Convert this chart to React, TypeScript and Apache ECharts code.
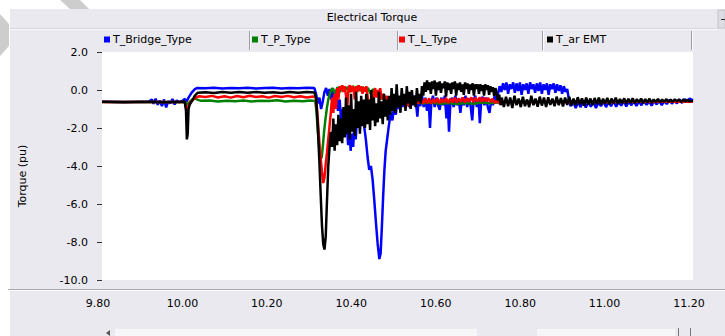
import React, { useEffect, useRef } from 'react';
import * as echarts from 'echarts';

const chartTitle = 'Electrical Torque';
const yAxisName = 'Torque (pu)';
const seriesNames = ['T_Bridge_Type', 'T_P_Type', 'T_L_Type', 'T_ar EMT'];
const seriesColors = ['#0000ff', '#008000', '#ff0000', '#000000'];
const xTicks = [9.8, 10.0, 10.2, 10.4, 10.6, 10.8, 11.0, 11.2];
const yTicks = [2, 0, -2, -4, -6, -8, -10];

const blueData = [
  [9.800,-0.62],[9.860,-0.63],[9.910,-0.62],[9.918,-0.5],[9.922,-0.72],[9.927,-0.46],[9.932,-0.78],[9.937,-0.55],[9.942,-0.85],[9.947,-0.5],[9.952,-0.92],[9.957,-0.58],[9.962,-0.7],[9.967,-0.47],[9.972,-0.76],[9.977,-0.55],[9.983,-0.64],[9.990,-0.58],[9.996,-0.47],[10.000,-0.62],[10.005,-0.4],[10.012,-0.15],[10.020,0.05],[10.026,0.11],
  [10.045,0.09],[10.065,0.12],[10.085,0.08],[10.105,0.11],[10.125,0.09],[10.145,0.12],[10.165,0.08],[10.185,0.1],[10.205,0.12],[10.225,0.08],[10.245,0.11],[10.265,0.09],[10.285,0.12],[10.303,0.1],
  [10.307,-0.2],[10.311,-0.7],[10.315,-0.4],[10.319,-1.0],[10.323,-0.6],[10.327,-0.1],[10.331,0.1],[10.335,-0.3],[10.339,0.05],[10.343,-0.5],[10.347,0.1],[10.351,-0.7],[10.355,-0.2],[10.359,-1.1],[10.363,-0.5],[10.367,-1.8],[10.371,-1.0],[10.375,-2.4],[10.379,-1.5],[10.383,-2.9],[10.386,-2.0],[10.389,-3.2],[10.392,-2.3],[10.395,-3.0],[10.398,-1.7],[10.401,-2.6],[10.405,-1.1],[10.409,-1.9],[10.413,-0.8],[10.417,-1.4],
  [10.421,-1.9],[10.425,-2.6],[10.429,-3.5],[10.433,-4.2],[10.437,-4.0],[10.441,-4.7],[10.445,-5.8],[10.449,-7.0],[10.453,-8.1],[10.457,-8.9],[10.460,-8.6],[10.463,-7.2],[10.466,-5.6],[10.469,-4.2],[10.472,-3.2],[10.476,-2.5],[10.480,-1.8],[10.484,-1.2],[10.488,-1.6],[10.492,-0.8],[10.496,-1.3],[10.500,-0.5],[10.504,-1.0],
  [10.508,-0.4],[10.512,-0.9],[10.516,-0.3],[10.520,-0.8],[10.524,-0.25],[10.528,-0.9],[10.532,-0.4],[10.536,-0.8],[10.540,-0.3],[10.544,-0.7],[10.547,-1.4],[10.550,-0.5],[10.554,-0.85],[10.558,-0.3],[10.562,-0.9],[10.566,-0.4],[10.570,-1.1],[10.574,-0.6],[10.577,-2.0],[10.580,-0.7],[10.584,-0.3],[10.588,-0.9],[10.592,-0.4],[10.596,-0.8],[10.600,-1.05],[10.604,-0.4],[10.608,-0.8],[10.612,-0.3],[10.616,-1.5],[10.619,-0.6],[10.622,-2.2],[10.625,-0.8],[10.629,-0.4],[10.633,-0.9],[10.637,-0.3],[10.641,-0.8],[10.645,-0.5],[10.649,-1.2],[10.653,-0.4],[10.657,-0.8],[10.661,-0.3],[10.665,-0.9],[10.669,-0.45],[10.673,-0.8],[10.677,-1.6],[10.680,-0.6],[10.684,-0.3],[10.688,-0.9],[10.692,-0.5],[10.695,-1.75],[10.698,-0.7],[10.702,-0.35],[10.706,-0.8],[10.710,-0.4],[10.714,-0.9],[10.718,-1.2],[10.722,-0.5],[10.726,-0.8],[10.730,-0.3],[10.734,-0.7],
  [10.738,-0.2],[10.742,0.2],
  [10.746,-0.1],[10.750,0.35],[10.754,0.0],[10.758,0.4],[10.762,-0.2],[10.766,0.3],[10.770,0.05],[10.774,0.4],[10.778,-0.15],[10.782,0.35],[10.786,-0.05],[10.790,0.4],[10.794,-0.25],[10.798,0.3],[10.802,0.0],[10.806,0.35],[10.810,-0.2],[10.814,0.4],[10.818,0.05],[10.822,0.3],[10.826,-0.15],[10.830,0.35],[10.834,-0.05],[10.838,0.4],[10.842,-0.2],[10.846,0.3],[10.850,0.0],[10.854,0.35],[10.858,-0.25],[10.862,0.3],[10.866,0.05],[10.870,0.35],[10.874,-0.15],[10.878,0.3],[10.882,-0.05],[10.886,0.25],[10.890,-0.2],[10.894,0.2],[10.898,-0.1],[10.902,0.05],
  [10.906,-0.5],[10.910,-0.85],
  [10.916,-0.6],[10.922,-0.95],[10.928,-0.65],[10.934,-0.9],[10.940,-0.55],[10.946,-0.92],[10.952,-0.62],[10.958,-0.88],[10.964,-0.58],[10.970,-0.95],[10.976,-0.66],[10.982,-0.85],[10.988,-0.6],[10.994,-0.9],[11.000,-0.62],[11.006,-0.85],[11.012,-0.55],[11.018,-0.88],[11.024,-0.62],[11.030,-0.82],[11.036,-0.58],[11.042,-0.86],[11.048,-0.6],[11.054,-0.8],[11.060,-0.56],[11.066,-0.84],[11.072,-0.6],[11.078,-0.8],[11.084,-0.55],[11.090,-0.78],[11.096,-0.6],[11.102,-0.82],[11.108,-0.56],[11.114,-0.76],[11.120,-0.55],[11.126,-0.8],[11.132,-0.58],[11.138,-0.74],[11.144,-0.52],[11.150,-0.72],[11.156,-0.55],[11.162,-0.7],[11.168,-0.5],[11.174,-0.68],[11.180,-0.48],[11.186,-0.65],[11.192,-0.45],[11.200,-0.55],
];

const greenData = [
  [9.800,-0.63],[9.998,-0.63],[10.003,-0.78],[10.008,-0.62],[10.014,-0.5],[10.020,-0.44],[10.027,-0.52],[10.035,-0.57],[10.055,-0.55],[10.075,-0.6],[10.095,-0.56],[10.115,-0.59],[10.135,-0.55],[10.155,-0.6],[10.175,-0.56],[10.195,-0.58],[10.215,-0.54],[10.235,-0.6],[10.255,-0.56],[10.275,-0.59],[10.295,-0.55],[10.305,-0.58],
  [10.308,-1.1],[10.311,-2.1],[10.314,-2.9],[10.317,-3.4],[10.320,-3.6],[10.323,-3.0],[10.326,-2.2],[10.329,-1.6],[10.333,-0.9],[10.337,-0.4],[10.341,-0.1],
  [10.346,0.1],[10.352,-0.2],[10.358,0.15],[10.364,-0.1],[10.370,0.2],[10.376,0.0],[10.382,0.15],[10.388,-0.1],[10.394,0.2],[10.400,0.05],[10.406,0.2],[10.412,-0.05],[10.418,0.15],[10.424,0.0],[10.430,0.1],[10.436,-0.2],[10.442,0.05],[10.448,-0.3],[10.455,-0.1],[10.462,-0.45],[10.470,-0.35],[10.478,-0.6],
  [10.490,-0.7],[10.505,-0.6],[10.520,-0.72],[10.540,-0.65],[10.560,-0.7],[10.580,-0.66],[10.600,-0.72],[10.620,-0.68],[10.640,-0.74],[10.660,-0.68],[10.680,-0.72],[10.700,-0.66],[10.720,-0.7],[10.740,-0.64],[10.760,-0.62],[10.800,-0.6],[10.850,-0.64],[10.900,-0.6],[10.950,-0.63],[11.000,-0.6],[11.050,-0.62],[11.100,-0.6],[11.150,-0.62],[11.200,-0.6],
];

const redData = [
  [9.800,-0.63],[9.996,-0.63],[9.999,-0.9],[10.002,-1.2],[10.005,-0.85],[10.010,-0.62],[10.016,-0.5],[10.022,-0.4],[10.030,-0.33],
  [10.045,-0.37],[10.060,-0.31],[10.075,-0.39],[10.090,-0.33],[10.105,-0.4],[10.120,-0.32],[10.135,-0.38],[10.150,-0.3],[10.165,-0.37],[10.180,-0.33],[10.195,-0.4],[10.210,-0.32],[10.225,-0.37],[10.240,-0.31],[10.255,-0.38],[10.270,-0.33],[10.285,-0.39],[10.300,-0.34],[10.306,-0.36],
  [10.309,-0.9],[10.312,-1.8],[10.315,-2.8],[10.318,-3.6],[10.321,-4.3],[10.324,-4.9],[10.327,-4.6],[10.330,-3.9],[10.333,-3.3],[10.336,-2.6],[10.339,-1.9],[10.342,-1.2],
  [10.345,-0.4],[10.348,-1.2],[10.351,-0.2],[10.354,-1.0],[10.357,0.1],[10.360,-0.5],[10.363,0.2],[10.366,0.0],[10.369,0.25],[10.372,-0.1],[10.375,0.2],[10.378,-0.3],[10.381,-0.9],[10.384,0.1],[10.387,0.25],[10.390,-0.1],[10.393,0.2],[10.396,0.05],[10.399,-0.5],[10.402,0.2],[10.405,-0.1],[10.408,0.25],[10.411,0.0],[10.414,0.2],[10.417,-0.2],[10.420,0.15],[10.423,-0.1],[10.426,0.2],[10.429,-0.3],[10.432,-1.0],[10.435,-1.4],[10.438,-0.6],[10.441,-1.3],[10.444,-0.2],[10.447,0.1],[10.450,-0.4],[10.453,0.0],[10.456,-0.3],[10.459,0.1],[10.462,-0.5],[10.466,-0.2],[10.470,-0.7],[10.474,-0.3],[10.478,-0.8],
  [10.482,-0.45],[10.486,-0.9],[10.490,-0.4],[10.494,-0.8],[10.498,-0.5],[10.502,-0.9],[10.506,-0.45],[10.510,-0.8],[10.514,-0.5],[10.518,-0.75],[10.522,-0.55],[10.526,-0.85],[10.530,-0.5],[10.534,-0.7],[10.538,-0.55],[10.542,-0.75],[10.546,-0.6],[10.550,-0.7],[10.555,-0.5],[10.560,-0.72],
  [10.565,-0.45],[10.570,-0.7],[10.575,-0.44],[10.580,-0.72],[10.585,-0.47],[10.590,-0.68],[10.595,-0.43],[10.600,-0.7],[10.605,-0.46],[10.610,-0.66],[10.615,-0.42],[10.620,-0.69],[10.625,-0.45],[10.630,-0.65],[10.635,-0.41],[10.640,-0.67],[10.645,-0.44],[10.650,-0.63],[10.655,-0.4],[10.660,-0.66],[10.665,-0.42],[10.670,-0.62],[10.675,-0.39],[10.680,-0.64],[10.685,-0.41],[10.690,-0.6],[10.695,-0.38],[10.700,-0.63],[10.705,-0.4],[10.710,-0.6],[10.715,-0.42],[10.720,-0.64],[10.725,-0.46],[10.730,-0.68],[10.735,-0.55],[10.740,-0.7],
  [10.760,-0.62],[10.800,-0.66],[10.850,-0.6],[10.900,-0.65],[10.950,-0.6],[11.000,-0.64],[11.050,-0.6],[11.100,-0.63],[11.150,-0.6],[11.200,-0.62],
];

const blackData = [
  [9.800,-0.62],[9.850,-0.64],[9.900,-0.62],[9.950,-0.64],[9.996,-0.62],[9.999,-1.1],[10.001,-2.6],[10.003,-2.3],[10.005,-1.0],[10.008,-0.75],[10.014,-0.55],[10.020,-0.3],[10.027,-0.14],
  [10.045,-0.12],[10.065,-0.16],[10.085,-0.1],[10.105,-0.14],[10.125,-0.11],[10.145,-0.15],[10.165,-0.1],[10.185,-0.14],[10.205,-0.12],[10.225,-0.16],[10.245,-0.11],[10.265,-0.14],[10.285,-0.1],[10.303,-0.13],
  [10.307,-0.4],[10.311,-1.8],[10.315,-3.8],[10.318,-5.5],[10.321,-7.1],[10.324,-8.1],[10.327,-8.4],[10.330,-7.7],[10.333,-5.8],[10.336,-4.0],[10.339,-3.0],[10.342,-2.2],
  [10.345,-3.0],[10.348,-1.5],[10.351,-3.2],[10.354,-1.8],[10.357,-2.9],[10.360,-1.3],[10.363,-2.7],[10.366,-1.5],[10.369,-2.8],[10.372,-0.9],[10.375,-2.5],
  [10.378,-0.4],[10.381,-2.3],[10.384,-0.8],[10.387,-2.6],[10.390,-0.2],[10.393,-2.2],[10.396,-1.0],[10.399,-2.4],[10.402,-0.1],[10.405,-2.0],[10.408,-0.6],[10.411,-2.3],[10.414,-0.3],[10.417,-1.9],[10.420,-0.5],
  [10.423,-2.0],[10.426,-0.2],[10.429,-1.8],[10.432,-0.5],[10.435,-2.1],[10.438,0.0],[10.441,-1.6],[10.444,-0.4],[10.447,-1.9],[10.450,-0.7],[10.453,-1.7],[10.456,-0.1],[10.459,-1.5],[10.462,-0.6],[10.465,-1.8],[10.468,-0.2],[10.471,-1.4],[10.474,-0.5],[10.477,-1.6],[10.480,-0.3],
  [10.483,-1.3],[10.486,0.1],[10.489,-1.1],[10.492,-0.2],[10.495,-1.2],[10.498,0.3],[10.501,-0.9],[10.504,-0.3],[10.507,-1.2],[10.510,0.1],[10.513,-0.8],[10.516,-0.2],[10.519,-1.1],[10.522,0.2],[10.525,-0.7],[10.528,-0.1],[10.531,-1.0],[10.534,0.0],[10.537,-0.8],[10.540,-0.3],[10.543,-0.9],[10.546,0.1],[10.549,-0.6],[10.552,-0.2],[10.555,-0.7],[10.558,0.2],[10.561,-0.3],
  [10.564,0.4],[10.567,-0.1],[10.570,0.5],[10.573,0.0],[10.576,0.4],[10.579,-0.2],[10.582,0.45],[10.585,0.05],[10.588,0.5],[10.591,-0.3],[10.594,0.4],[10.597,0.0],[10.600,0.45],[10.603,-0.15],[10.606,0.35],[10.609,0.1],[10.612,0.45],[10.615,-0.35],[10.618,0.4],[10.621,0.0],[10.624,0.35],[10.627,-0.2],[10.630,0.4],[10.633,0.05],[10.636,0.45],[10.639,-0.3],[10.642,0.35],[10.645,0.0],[10.648,0.4],[10.651,-0.1],[10.654,0.3],[10.657,-0.25],[10.660,0.4],[10.663,0.05],[10.666,0.35],[10.669,-0.2],[10.672,0.3],[10.675,0.0],[10.678,0.35],[10.681,-0.3],[10.684,0.3],[10.687,0.05],[10.690,0.3],[10.693,-0.2],[10.696,0.3],[10.699,-0.05],[10.702,0.25],[10.705,-0.3],[10.708,0.3],[10.711,0.0],[10.714,0.25],[10.717,-0.25],[10.720,0.2],[10.723,-0.1],[10.726,0.15],[10.729,-0.3],[10.732,0.1],[10.735,-0.2],
  [10.738,-0.55],[10.741,-0.25],[10.744,-0.8],[10.747,-0.4],
  [10.752,-0.9],[10.757,-0.35],[10.762,-0.85],[10.767,-0.4],[10.772,-0.95],[10.777,-0.3],[10.782,-0.8],[10.787,-0.45],[10.792,-0.9],[10.797,-0.35],[10.802,-0.85],[10.807,-0.5],[10.812,-0.9],[10.817,-0.3],[10.822,-0.8],[10.827,-0.45],[10.832,-0.88],[10.837,-0.35],[10.842,-0.82],[10.847,-0.4],[10.852,-0.9],[10.857,-0.38],[10.862,-0.78],[10.867,-0.45],[10.872,-0.85],[10.877,-0.35],[10.882,-0.8],[10.887,-0.42],[10.892,-0.86],[10.897,-0.4],[10.902,-0.78],[10.907,-0.36],[10.912,-0.82],[10.917,-0.45],[10.922,-0.8],[10.927,-0.38],[10.932,-0.76],[10.937,-0.44],[10.942,-0.82],[10.947,-0.4],[10.952,-0.75],[10.957,-0.45],[10.962,-0.8],[10.967,-0.42],[10.972,-0.74],[10.977,-0.4],[10.982,-0.78],[10.987,-0.46],[10.992,-0.72],[10.997,-0.42],[11.002,-0.76],[11.007,-0.45],[11.012,-0.7],[11.017,-0.4],[11.022,-0.74],[11.027,-0.47],[11.032,-0.7],[11.037,-0.44],[11.042,-0.72],[11.047,-0.46],[11.052,-0.68],[11.057,-0.43],[11.062,-0.7],[11.067,-0.48],[11.072,-0.66],[11.077,-0.45],[11.082,-0.7],[11.087,-0.48],[11.092,-0.65],[11.097,-0.46],[11.102,-0.68],[11.107,-0.5],[11.112,-0.64],[11.117,-0.47],[11.122,-0.66],[11.127,-0.5],[11.132,-0.62],[11.137,-0.48],[11.142,-0.64],[11.147,-0.5],[11.152,-0.62],[11.157,-0.49],[11.162,-0.6],[11.167,-0.5],[11.172,-0.62],[11.177,-0.5],[11.182,-0.6],[11.187,-0.52],[11.192,-0.6],[11.200,-0.55],
];

const allData = [blueData, greenData, redData, blackData];
const legendLefts = [104, 252, 399, 547];
const legendSeparators = [249, 397, 542, 691];

const FONT = 'DejaVu Sans';
const PANEL = '#eae9ef';

export default function App() {
  const ref = useRef<HTMLDivElement>(null);
  useEffect(() => {
    const chart = echarts.init(ref.current!, null, { renderer: 'svg' });
    const graphics: any[] = [
      { type: 'rect', shape: { x: 0, y: 0, width: 725, height: 9 }, style: { fill: '#fff' }, silent: true },
      { type: 'rect', shape: { x: 0, y: 0, width: 10, height: 336 }, style: { fill: '#fff' }, silent: true },
      { type: 'polygon', shape: { points: [[60, 0], [80, 0], [89, 9], [70, 9]] }, style: { fill: '#cdcdcd' }, silent: true },
      { type: 'polygon', shape: { points: [[0, 14], [9, 24], [9, 46], [0, 56]] }, style: { fill: '#cdcdcd' }, silent: true },
      { type: 'line', shape: { x1: 10, y1: 29.5, x2: 718, y2: 29.5 }, style: { stroke: '#fbfbfd', lineWidth: 1 }, silent: true },
      { type: 'line', shape: { x1: 10, y1: 28.5, x2: 718, y2: 28.5 }, style: { stroke: '#d4d3da', lineWidth: 1 }, silent: true },
      { type: 'rect', shape: { x: 718, y: 10, width: 7, height: 18 }, style: { fill: '#dddce3', stroke: '#c4c3ca', lineWidth: 1 }, silent: true },
      { type: 'line', shape: { x1: 721, y1: 19.5, x2: 725, y2: 19.5 }, style: { stroke: '#333', lineWidth: 1 }, silent: true },
      { type: 'line', shape: { x1: 8, y1: 289.5, x2: 725, y2: 289.5 }, style: { stroke: '#a9a9ae', lineWidth: 1 }, silent: true },
      { type: 'line', shape: { x1: 8, y1: 290.5, x2: 725, y2: 290.5 }, style: { stroke: '#fdfdfd', lineWidth: 1 }, silent: true },
      { type: 'rect', shape: { x: 115, y: 329, width: 362, height: 7 }, style: { fill: '#f6f6f8' }, silent: true },
      { type: 'rect', shape: { x: 537, y: 329, width: 138, height: 7 }, style: { fill: '#f6f6f8' }, silent: true },
      { type: 'polygon', shape: { points: [[106, 333], [110, 330], [110, 336]] }, style: { fill: '#555' }, silent: true },
      { type: 'line', shape: { x1: 678.5, y1: 328, x2: 678.5, y2: 336 }, style: { stroke: '#777', lineWidth: 1 }, silent: true },
      { type: 'line', shape: { x1: 690.5, y1: 328, x2: 690.5, y2: 336 }, style: { stroke: '#777', lineWidth: 1 }, silent: true },
      {
        type: 'text', x: 22, y: 176, rotation: Math.PI / 2, silent: true,
        style: { text: yAxisName, fontSize: 11, fontFamily: FONT, fill: '#000', align: 'center', verticalAlign: 'middle' },
      },
    ];
    legendSeparators.forEach((x) => {
      graphics.push({ type: 'line', shape: { x1: x + 0.5, y1: 31, x2: x + 0.5, y2: 50 }, style: { stroke: '#9c9ca2', lineWidth: 1 }, silent: true });
      graphics.push({ type: 'line', shape: { x1: x + 1.5, y1: 31, x2: x + 1.5, y2: 50 }, style: { stroke: '#fbfbfd', lineWidth: 1 }, silent: true });
    });

    chart.setOption({
      animation: false,
      backgroundColor: PANEL,
      title: {
        text: chartTitle, left: 372, top: 12, textAlign: 'center', padding: 0,
        textStyle: { fontSize: 11, fontWeight: 'normal', fontFamily: FONT, color: '#000' },
      },
      legend: seriesNames.map((name, i) => ({
        data: [name], left: legendLefts[i], top: 34, padding: 0, icon: 'rect',
        itemWidth: 6, itemHeight: 6, itemGap: 0, selectedMode: false,
        textStyle: { fontSize: 11, fontFamily: FONT, color: '#000', padding: [0, 0, 0, -2] },
      })),
      grid: { left: 102, right: 32, top: 52, bottom: 56, show: true, backgroundColor: '#ffffff', borderWidth: 0 },
      xAxis: {
        type: 'value', min: xTicks[0], max: xTicks[xTicks.length - 1], interval: 0.2,
        axisLine: { show: false }, axisTick: { show: false }, splitLine: { show: false },
        axisLabel: {
          formatter: (v: number) => v.toFixed(2), margin: 18, fontSize: 11, fontFamily: FONT, color: '#000',
          padding: [0, 8, 0, 0], showMinLabel: true, showMaxLabel: true,
        },
      },
      yAxis: {
        type: 'value', min: yTicks[yTicks.length - 1], max: yTicks[0], interval: 2,
        axisLine: { show: false }, splitLine: { show: false },
        axisTick: { show: true, length: 5, lineStyle: { color: '#333' } },
        axisLabel: { formatter: (v: number) => v.toFixed(1), margin: 14, fontSize: 11, fontFamily: FONT, color: '#000' },
      },
      graphic: { elements: graphics },
      series: seriesNames.map((name, i) => ({
        name, type: 'line', data: allData[i], showSymbol: false, symbol: 'none',
        color: seriesColors[i], lineStyle: { width: 2.5, color: seriesColors[i] }, z: 2 + i,
      })),
    });
    return () => chart.dispose();
  }, []);
  return <div ref={ref} style={{ position: 'fixed', left: 0, top: 0, width: 725, height: 336 }} />;
}
